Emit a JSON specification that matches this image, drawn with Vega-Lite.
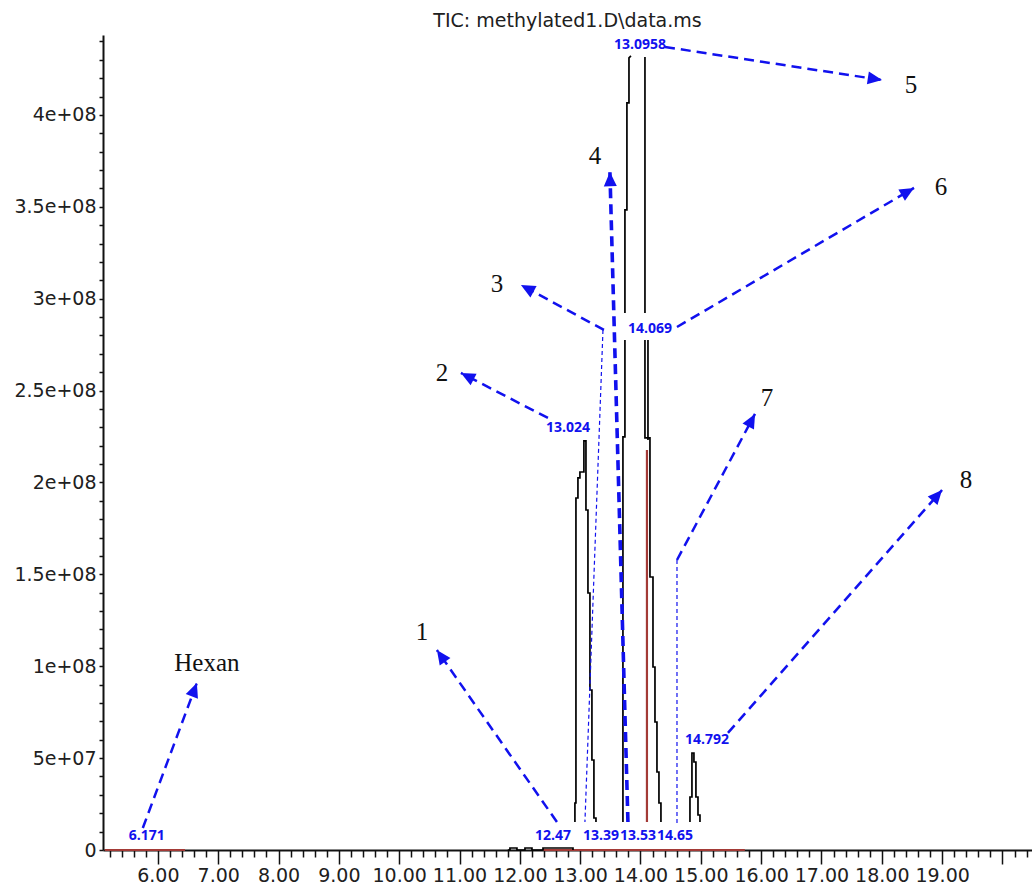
{
  "$schema": "https://vega.github.io/schema/vega-lite/v6.json",
  "autosize": {"type": "none"},
  "padding": {"left": 103, "top": 35, "right": 0, "bottom": 38},
  "width": 929,
  "height": 815,
  "background": "white",
  "config": {"view": {"stroke": null}, "axis": {"labelOverlap": false, "labelBound": false, "labelFlush": false}},
  "title": {"text": "TIC: methylated1.D\\data.ms", "font": "DejaVu Sans", "fontSize": 19, "fontWeight": "normal", "color": "#202020", "anchor": "middle", "frame": "group", "baseline": "alphabetic", "offset": -14},
  "datasets": {
    "trace": [
      {"seg":"A","ord":1,"t":12.913,"v":15240000},{"seg":"A","ord":2,"t":12.913,"v":25580000},{"seg":"A","ord":3,"t":12.930,"v":25580000},{"seg":"A","ord":4,"t":12.930,"v":191560000},{"seg":"A","ord":5,"t":12.963,"v":191560000},{"seg":"A","ord":6,"t":12.963,"v":202450000},{"seg":"A","ord":7,"t":12.996,"v":202450000},{"seg":"A","ord":8,"t":12.996,"v":205710000},{"seg":"A","ord":9,"t":13.062,"v":205710000},{"seg":"A","ord":10,"t":13.062,"v":222590000},{"seg":"A","ord":11,"t":13.096,"v":222590000},{"seg":"A","ord":12,"t":13.096,"v":185030000},{"seg":"A","ord":13,"t":13.129,"v":185030000},{"seg":"A","ord":14,"t":13.129,"v":139860000},{"seg":"A","ord":15,"t":13.162,"v":139860000},{"seg":"A","ord":16,"t":13.162,"v":87070000},{"seg":"A","ord":17,"t":13.195,"v":87070000},{"seg":"A","ord":18,"t":13.195,"v":48980000},{"seg":"A","ord":19,"t":13.228,"v":48980000},{"seg":"A","ord":20,"t":13.228,"v":17410000},{"seg":"A","ord":21,"t":13.262,"v":17410000},{"seg":"A","ord":22,"t":13.262,"v":15240000},
      {"seg":"BL1","ord":1,"t":13.709,"v":15240000},{"seg":"BL1","ord":2,"t":13.709,"v":224760000},{"seg":"BL1","ord":3,"t":13.742,"v":224760000},{"seg":"BL1","ord":4,"t":13.742,"v":277550000},
      {"seg":"BL2","ord":1,"t":13.742,"v":292240000},{"seg":"BL2","ord":2,"t":13.742,"v":348300000},{"seg":"BL2","ord":3,"t":13.775,"v":348300000},{"seg":"BL2","ord":4,"t":13.775,"v":406530000},{"seg":"BL2","ord":5,"t":13.809,"v":406530000},{"seg":"BL2","ord":6,"t":13.809,"v":431020000},{"seg":"BL2","ord":7,"t":13.842,"v":432110000},
      {"seg":"BR1","ord":1,"t":14.074,"v":431560000},{"seg":"BR1","ord":2,"t":14.074,"v":292240000},
      {"seg":"BR2","ord":1,"t":14.074,"v":277550000},{"seg":"BR2","ord":2,"t":14.074,"v":224220000},{"seg":"BR2","ord":3,"t":14.157,"v":224220000},{"seg":"BR2","ord":4,"t":14.157,"v":148570000},{"seg":"BR2","ord":5,"t":14.207,"v":148570000},{"seg":"BR2","ord":6,"t":14.207,"v":99590000},{"seg":"BR2","ord":7,"t":14.240,"v":99590000},{"seg":"BR2","ord":8,"t":14.240,"v":69660000},{"seg":"BR2","ord":9,"t":14.273,"v":69660000},{"seg":"BR2","ord":10,"t":14.273,"v":42450000},{"seg":"BR2","ord":11,"t":14.306,"v":42450000},{"seg":"BR2","ord":12,"t":14.306,"v":25580000},{"seg":"BR2","ord":13,"t":14.339,"v":25580000},{"seg":"BR2","ord":14,"t":14.339,"v":15240000},
      {"seg":"P6","ord":1,"t":14.124,"v":277550000},{"seg":"P6","ord":2,"t":14.124,"v":223130000},
      {"seg":"C","ord":1,"t":14.820,"v":15240000},{"seg":"C","ord":2,"t":14.820,"v":28840000},{"seg":"C","ord":3,"t":14.853,"v":28840000},{"seg":"C","ord":4,"t":14.853,"v":52790000},{"seg":"C","ord":5,"t":14.886,"v":52790000},{"seg":"C","ord":6,"t":14.886,"v":47890000},{"seg":"C","ord":7,"t":14.919,"v":47890000},{"seg":"C","ord":8,"t":14.919,"v":28840000},{"seg":"C","ord":9,"t":14.953,"v":28840000},{"seg":"C","ord":10,"t":14.953,"v":19050000},{"seg":"C","ord":11,"t":14.986,"v":19050000},{"seg":"C","ord":12,"t":14.986,"v":15240000},
      {"seg":"base","ord":1,"t":11.80,"v":0},{"seg":"base","ord":2,"t":11.836,"v":0},{"seg":"base","ord":3,"t":11.836,"v":1100000},{"seg":"base","ord":4,"t":11.952,"v":1100000},{"seg":"base","ord":5,"t":11.952,"v":0},{"seg":"base","ord":6,"t":12.085,"v":0},{"seg":"base","ord":7,"t":12.085,"v":1100000},{"seg":"base","ord":8,"t":12.201,"v":1100000},{"seg":"base","ord":9,"t":12.201,"v":0},{"seg":"base","ord":10,"t":12.384,"v":0},{"seg":"base","ord":11,"t":12.384,"v":1100000},{"seg":"base","ord":12,"t":12.881,"v":1100000},{"seg":"base","ord":13,"t":12.881,"v":0}
    ],
    "red": [
      {"seg":"R1","ord":1,"t":5.12,"v":0},{"seg":"R1","ord":2,"t":6.45,"v":0},
      {"seg":"R2","ord":1,"t":12.38,"v":0},{"seg":"R2","ord":2,"t":15.73,"v":0},
      {"seg":"R6","ord":1,"t":14.107,"v":217690000},{"seg":"R6","ord":2,"t":14.107,"v":15240000}
    ],
    "guides": [
      {"t":13.378,"v":283000000,"t2":13.079,"v2":15240000},
      {"t":14.605,"v":157800000,"t2":14.605,"v2":13600000}
    ],
    "arrows": [
      {"lab":"Hexan","t":5.750,"v":12000000,"t2":6.646,"v2":90900000},
      {"lab":"1","t":12.615,"v":15240000,"t2":10.625,"v2":108800000},
      {"lab":"2","t":12.466,"v":235100000,"t2":11.023,"v2":259600000},
      {"lab":"3","t":13.394,"v":283000000,"t2":12.018,"v2":307500000},
      {"lab":"4","t":13.792,"v":15240000,"t2":13.493,"v2":369000000},
      {"lab":"5","t":14.406,"v":437000000,"t2":18.004,"v2":419000000},
      {"lab":"6","t":14.605,"v":284600000,"t2":18.534,"v2":360300000},
      {"lab":"7","t":14.605,"v":157800000,"t2":15.898,"v2":237300000},
      {"lab":"8","t":15.450,"v":63700000,"t2":18.999,"v2":195900000}
    ],
    "times": [
      {"txt":"6.171","t":5.817,"v":7620000},
      {"txt":"12.47","t":12.548,"v":7620000},
      {"txt":"13.39","t":13.345,"v":7620000},
      {"txt":"13.53","t":13.959,"v":7620000},
      {"txt":"14.65","t":14.572,"v":7620000},
      {"txt":"13.024","t":12.797,"v":229660000},
      {"txt":"13.0958","t":13.991,"v":438100000},
      {"txt":"14.069","t":14.157,"v":283540000},
      {"txt":"14.792","t":15.102,"v":59860000}
    ],
    "names": [
      {"txt":"Hexan","t":6.812,"v":101800000},
      {"txt":"1","t":10.376,"v":118600000},
      {"txt":"2","t":10.708,"v":259600000},
      {"txt":"3","t":11.620,"v":308000000},
      {"txt":"4","t":13.245,"v":377700000},
      {"txt":"5","t":18.485,"v":416300000},
      {"txt":"6","t":18.982,"v":360800000},
      {"txt":"7","t":16.098,"v":246000000},
      {"txt":"8","t":19.397,"v":201400000}
    ]
  },
  "encoding": {
    "x": {"field": "t", "type": "quantitative", "scale": {"domain": [5.09, 20.49], "nice": false, "zero": false},
      "axis": {"title": null, "orient": "bottom", "grid": false,
        "values": [5.2,5.4,5.6,5.8,6,6.2,6.4,6.6,6.8,7,7.2,7.4,7.6,7.8,8,8.2,8.4,8.6,8.8,9,9.2,9.4,9.6,9.8,10,10.2,10.4,10.6,10.8,11,11.2,11.4,11.6,11.8,12,12.2,12.4,12.6,12.8,13,13.2,13.4,13.6,13.8,14,14.2,14.4,14.6,14.8,15,15.2,15.4,15.6,15.8,16,16.2,16.4,16.6,16.8,17,17.2,17.4,17.6,17.8,18,18.2,18.4,18.6,18.8,19,19.2,19.4,19.6,19.8,20,20.2,20.4],
        "tickSize": {"condition": {"test": "abs(datum.value - round(datum.value)) < 0.001", "value": 14}, "value": 7},
        "tickColor": "#111", "tickWidth": 1.5, "domainColor": "#111", "domainWidth": 2,
        "labelExpr": "abs(datum.value - round(datum.value)) < 0.001 && datum.value < 19.5 ? format(datum.value, '.2f') : ''",
        "labelFont": "DejaVu Sans", "labelFontSize": 19, "labelColor": "#202020", "labelPadding": 2,
        "labelOverlap": false, "labelBound": false, "labelFlush": false}},
    "y": {"field": "v", "type": "quantitative", "scale": {"domain": [0, 443500000], "nice": false},
      "axis": {"title": null, "grid": false,
        "values": [0,1e7,2e7,3e7,4e7,5e7,6e7,7e7,8e7,9e7,1e8,1.1e8,1.2e8,1.3e8,1.4e8,1.5e8,1.6e8,1.7e8,1.8e8,1.9e8,2e8,2.1e8,2.2e8,2.3e8,2.4e8,2.5e8,2.6e8,2.7e8,2.8e8,2.9e8,3e8,3.1e8,3.2e8,3.3e8,3.4e8,3.5e8,3.6e8,3.7e8,3.8e8,3.9e8,4e8,4.1e8,4.2e8,4.3e8,4.4e8],
        "tickSize": 4, "tickColor": "#111", "tickWidth": 1.5, "domainColor": "#111", "domainWidth": 2,
        "labelExpr": "datum.value % 50000000 == 0 ? (datum.value == 0 ? '0' : replace(format(datum.value, '~e'), 'e+', 'e+0')) : ''",
        "labelFont": "DejaVu Sans", "labelFontSize": 19, "labelColor": "#202020", "labelPadding": 3,
        "labelOverlap": false, "labelBound": false, "labelFlush": false}}
  },
  "layer": [
    {
      "data": {"name": "red"},
      "mark": {"type": "line", "color": "#a33a36", "strokeWidth": 2.2},
      "encoding": {
        "detail": {"field": "seg"},
        "order": {"field": "ord", "type": "quantitative"}
      }
    },
    {
      "data": {"name": "trace"},
      "mark": {"type": "line", "color": "#000000", "strokeWidth": 1.7},
      "encoding": {
        "detail": {"field": "seg"},
        "order": {"field": "ord", "type": "quantitative"}
      }
    },
    {
      "data": {"name": "guides"},
      "mark": {"type": "rule", "color": "#1111ee", "strokeWidth": 1.2, "strokeDash": [4, 3]},
      "encoding": {
        "x2": {"field": "t2"},
        "y2": {"field": "v2"}
      }
    },
    {
      "data": {"name": "arrows"},
      "mark": {"type": "rule", "color": "#1111ee", "strokeDash": [10, 6]},
      "encoding": {
        "x2": {"field": "t2"},
        "y2": {"field": "v2"},
        "strokeWidth": {"condition": {"test": "datum.lab == '4'", "value": 3.6}, "value": 2.5}
      }
    },
    {
      "data": {"name": "arrows"},
      "transform": [
        {"calculate": "atan2((datum.t2 - datum.t) * 60.31, (datum.v2 - datum.v) * 0.0000018375) * 180 / PI", "as": "ang"},
        {"calculate": "datum.t2", "as": "t"},
        {"calculate": "datum.v2", "as": "v"}
      ],
      "mark": {"type": "point", "shape": "M0,0L-1,2.2L1,2.2Z", "filled": true, "color": "#1111ee", "opacity": 1, "size": 169, "strokeWidth": 0},
      "encoding": {
        "angle": {"field": "ang", "type": "quantitative", "scale": null}
      }
    },
    {
      "data": {"name": "times"},
      "mark": {"type": "text", "font": "Open Sans", "fontWeight": "bold", "fontSize": 14, "color": "#1111ee", "align": "center", "baseline": "middle"},
      "encoding": {
        "text": {"field": "txt"}
      }
    },
    {
      "data": {"name": "names"},
      "mark": {"type": "text", "font": "Liberation Serif", "fontSize": 25, "color": "#111111", "align": "center", "baseline": "middle"},
      "encoding": {
        "text": {"field": "txt"}
      }
    }
  ]
}
